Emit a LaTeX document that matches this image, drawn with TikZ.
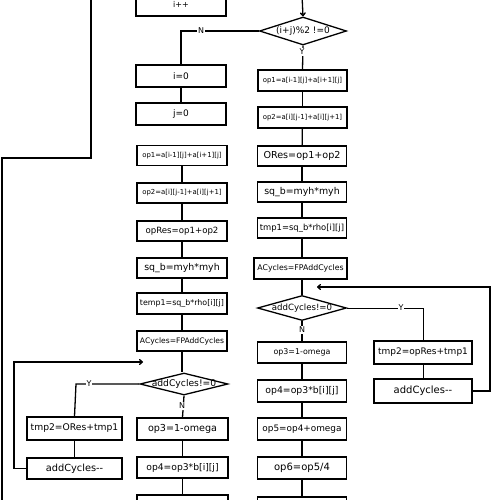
\documentclass[tikz,border=0pt]{standalone}
\usepackage{fontspec}
\setmainfont{DejaVu Sans}
\usetikzlibrary{shapes.geometric,arrows.meta}
\newcommand{\fs}[1]{\fontsize{#1}{#1}\selectfont}
\tikzset{
  box/.style={draw, line width=1.3pt, inner sep=0.3pt, minimum height=21pt},
  lbox/.style={box, minimum width=90pt},
  rbox/.style={box, minimum width=89pt},
  dia/.style={draw, diamond, line width=1.3pt, inner sep=0pt},
  conn/.style={line width=1.3pt},
  thin conn/.style={line width=0.7pt},
  lab/.style={fill=white, inner sep=1pt, font=\fs{8}},
  arr/.style={-{To[length=4pt,width=6pt]}}
}
\begin{document}
\begin{tikzpicture}[x=1pt,y=-1pt]
\useasboundingbox (0,0) rectangle (500,500);
\clip (0,0) rectangle (500,500);
\fill[white] (0,0) rectangle (500,500);

% left column
\node[lbox, minimum height=24pt, font=\fs{8}] (ipp) at (181,4) {i++};
\node[lbox, minimum height=22pt, font=\fs{9}] (i0) at (181,76) {i=0};
\node[lbox, minimum height=22pt, font=\fs{9}] (j0) at (181,114) {j=0};
\node[lbox, minimum height=20pt, font=\fs{6.9}] (lop1) at (182,155.5) {op1=a[i-1][j]+a[i+1][j]};
\node[lbox, minimum height=20pt, font=\fs{6.9}] (lop2) at (182,193) {op2=a[i][j-1]+a[i][j+1]};
\node[lbox, minimum height=20pt, font=\fs{8.6}] (lopres) at (182,231) {opRes=op1+op2};
\node[lbox, minimum height=20pt, font=\fs{9.4}] (lsq) at (182,268) {sq\_b=myh*myh};
\node[lbox, minimum height=21pt, font=\fs{7.9}] (ltemp) at (182,303.5) {temp1=sq\_b*rho[i][j]};
\node[lbox, minimum height=20pt, font=\fs{7.6}] (lacyc) at (182,341) {ACycles=FPAddCycles};
\node[dia, minimum width=88pt, minimum height=22pt, label={[font=\fs{9.2}]center:addCycles!=0}] (ldia) at (184,384) {};
\node[lbox, minimum width=91pt, minimum height=22pt, font=\fs{9.6}] (lop3) at (182.5,429) {op3=1-omega};
\node[lbox, minimum width=91pt, minimum height=21pt, font=\fs{9.2}] (lop4) at (182.5,467.5) {op4=op3*b[i][j]};
\node[lbox, minimum width=91pt, minimum height=22pt] (lbot) at (182.5,506) {};
\node[box, minimum width=95pt, minimum height=23pt, font=\fs{9.2}] (ltmp2) at (74.5,428.5) {tmp2=ORes+tmp1};
\node[box, minimum width=95pt, minimum height=21pt, font=\fs{9.8}] (ladd) at (74.5,468.5) {addCycles-{}-};

% right column
\node[dia, minimum width=87pt, minimum height=28pt, label={[font=\fs{9}]center:(i+j)\%2 !=0}] (rdia) at (303,31) {};
\node[rbox, minimum height=21pt, font=\fs{6.9}] (rop1) at (302.5,80.5) {op1=a[i-1][j]+a[i+1][j]};
\node[rbox, minimum height=21pt, font=\fs{6.9}] (rop2) at (302.5,117.5) {op2=a[i][j-1]+a[i][j+1]};
\node[rbox, minimum height=20pt, font=\fs{9.6}] (rores) at (302,156) {ORes=op1+op2};
\node[rbox, minimum height=20pt, font=\fs{9.4}] (rsq) at (302,192) {sq\_b=myh*myh};
\node[rbox, minimum height=20pt, font=\fs{8.4}] (rtmp) at (302,228) {tmp1=sq\_b*rho[i][j]};
\node[box, minimum width=93pt, minimum height=21pt, font=\fs{7.8}] (racyc) at (300.5,268.5) {ACycles=FPAddCycles};
\node[dia, minimum width=89pt, minimum height=25pt, label={[font=\fs{8.6}]center:addCycles!=0}] (rdia2) at (302,308) {};
\node[rbox, minimum height=21pt, font=\fs{7.9}] (rop3) at (302,352.5) {op3=1-omega};
\node[rbox, minimum height=22pt, font=\fs{9.3}] (rop4) at (302,391) {op4=op3*b[i][j]};
\node[rbox, minimum height=22pt, font=\fs{8.9}] (rop5) at (302,429) {op5=op4+omega};
\node[rbox, minimum height=22pt, font=\fs{10}] (rop6) at (302,468) {op6=op5/4};
\node[rbox, minimum height=22pt] (rbot) at (302,508) {};
\node[box, minimum width=98pt, minimum height=23pt, font=\fs{9}] (rtmp2) at (423,352.5) {tmp2=opRes+tmp1};
\node[box, minimum width=98pt, minimum height=24pt, font=\fs{10}] (radd) at (423,391) {addCycles-{}-};

% helper coordinates
\coordinate (top) at (302,-5);
\coordinate (ntn) at (181,31);
\coordinate (lyc) at (76,384);
\coordinate (lla) at (14,468.5);
\coordinate (llb) at (14,362);
\coordinate (lle) at (143,362);
\coordinate (ryc) at (423,308);
\coordinate (rra) at (490,391);
\coordinate (rrb) at (490,287);
\coordinate (rre) at (317,287);
\coordinate (oa) at (91,-5);
\coordinate (ob) at (91,158);
\coordinate (oc) at (2,158);
\coordinate (od) at (2,505);

% connectors
\draw[conn, arr] (top) -- (rdia.north);
\draw[conn] (rdia.west) -- (ntn) -- (i0.north);
\node[lab] (nlab) at (201,31) {N};
\draw[conn] (rdia.south) -- (rop1.north);
\node[lab] (ylab) at (302,52) {Y};
\draw[conn] (i0) -- (j0);
\draw[conn] (lop1) -- (lop2);
\draw[conn] (lop2) -- (lopres);
\draw[conn] (lopres) -- (lsq);
\draw[conn] (lsq) -- (ltemp);
\draw[conn] (ltemp) -- (lacyc);
\draw[conn] (lacyc.south) -- (lacyc.south |- ldia.north);
\draw[conn] (ldia.south) -- (lop3.north);
\node[lab] (nlab2) at (182,406) {N};
\draw[conn] (lop3) -- (lop4);
\draw[conn] (lop4) -- (lbot);
\draw[conn] (ldia.west) -- (lyc) -- (ltmp2.north);
\node[lab] (ylab2) at (89,384) {Y};
\draw[conn] (ltmp2) -- (ladd);
\draw[conn, arr] (ladd.west) -- (lla) -- (llb) -- (lle);

\draw[conn] (rop1) -- (rop2);
\draw[conn] (rop2) -- (rores);
\draw[conn] (rores) -- (rsq);
\draw[conn] (rsq) -- (rtmp);
\draw[conn] (rtmp) -- (rtmp.south |- racyc.north);
\draw[conn] (rtmp.south |- racyc.south) -- (rdia2.north);
\draw[conn] (rdia2.south) -- (rop3.north);
\node[lab] (nlab3) at (302,330) {N};
\draw[conn] (rop3) -- (rop4);
\draw[conn] (rop4) -- (rop5);
\draw[conn] (rop5) -- (rop6);
\draw[conn] (rop6) -- (rbot);
\draw[thin conn] (rdia2.east) -- (ryc) -- (rtmp2.north);
\node[lab] (ylab3) at (401,308) {Y};
\draw[thin conn] (rtmp2) -- (radd);
\draw[conn, arr] (radd.east) -- (rra) -- (rrb) -- (rre);

\draw[conn] (oa) -- (ob) -- (oc) -- (od);
\end{tikzpicture}
\end{document}
